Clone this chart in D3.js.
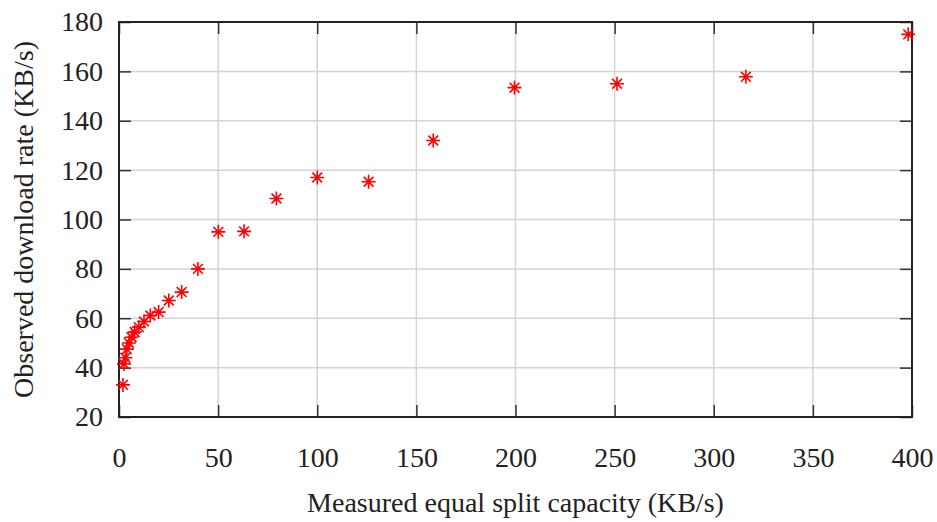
<!DOCTYPE html>
<html>
<head>
<meta charset="utf-8">
<script src="https://cdn.jsdelivr.net/npm/d3@7"></script>
<style>
  body { margin: 0; background: #fff; }
  text { font-family: "Liberation Serif", "DejaVu Serif", serif; fill: #222; }
</style>
</head>
<body>
<svg></svg>
<script>
const svg = d3.select("svg");

const sizes = {
  width: 937,
  height: 522,
  left: 119,
  right: 912,
  top: 22,
  bottom: 417,
  tick: 12,
  star: 7,
  font: "28px"
};

svg.attr("width", sizes.width).attr("height", sizes.height);

// measured equal split capacity (KB/s)
const capacity = [2.0, 2.5, 3.2, 4.0, 5.0, 6.3, 7.9, 10, 12.6, 15.8, 20, 25.1, 31.6, 39.8,
  50.1, 63.1, 79.4, 100, 125.9, 158.5, 199.5, 251.2, 316.2, 398.1];
// observed download rate (KB/s)
const rate = [33, 41.5, 44, 47.5, 50, 52.3, 54.4, 56.4, 58.7, 61.1, 62.5, 67.2, 70.6, 80,
  95, 95.2, 108.5, 117, 115.3, 132, 153.4, 155, 157.8, 175];

const xTicks = [0, 50, 100, 150, 200, 250, 300, 350, 400];
const yTicks = [20, 40, 60, 80, 100, 120, 140, 160, 180];

const x = d3.scaleLinear().domain([0, 400]).range([sizes.left, sizes.right]);
const y = d3.scaleLinear().domain([20, 180]).range([sizes.bottom, sizes.top]);

// grid
svg.append("g")
  .selectAll("line")
  .data(xTicks.slice(1, -1))
  .join("line")
  .attr("x1", d => x(d)).attr("x2", d => x(d))
  .attr("y1", sizes.top).attr("y2", sizes.bottom)
  .attr("stroke", "#d4d4d4").attr("stroke-width", 1.5);

svg.append("g")
  .selectAll("line")
  .data(yTicks.slice(1, -1))
  .join("line")
  .attr("y1", d => y(d)).attr("y2", d => y(d))
  .attr("x1", sizes.left).attr("x2", sizes.right)
  .attr("stroke", "#d4d4d4").attr("stroke-width", 1.5);

// axes with inward ticks on all four sides
const axisStyle = g => {
  g.select(".domain").remove();
  g.selectAll(".tick line").attr("stroke", "#333").attr("stroke-width", 1.5);
  g.selectAll("text").style("font-size", sizes.font).style("fill", "#222");
};

svg.append("g")
  .attr("transform", `translate(0,${sizes.bottom})`)
  .call(d3.axisBottom(x).tickValues(xTicks).tickSize(-sizes.tick).tickPadding(30))
  .call(axisStyle);

svg.append("g")
  .attr("transform", `translate(0,${sizes.top})`)
  .call(d3.axisTop(x).tickValues(xTicks).tickSize(-sizes.tick).tickFormat(""))
  .call(axisStyle);

svg.append("g")
  .attr("transform", `translate(${sizes.left},0)`)
  .call(d3.axisLeft(y).tickValues(yTicks).tickSize(-sizes.tick).tickPadding(16))
  .call(axisStyle);

svg.append("g")
  .attr("transform", `translate(${sizes.right},0)`)
  .call(d3.axisRight(y).tickValues(yTicks).tickSize(-sizes.tick).tickFormat(""))
  .call(axisStyle);

// frame
svg.append("rect")
  .attr("x", sizes.left).attr("y", sizes.top)
  .attr("width", sizes.right - sizes.left)
  .attr("height", sizes.bottom - sizes.top)
  .attr("fill", "none")
  .attr("stroke", "#222")
  .attr("stroke-width", 2);

// star markers (plus + cross)
const s = sizes.star;
const starPath = `M${-s},0H${s}M0,${-s}V${s}M${-s * 0.7},${-s * 0.7}L${s * 0.7},${s * 0.7}M${-s * 0.7},${s * 0.7}L${s * 0.7},${-s * 0.7}`;

svg.append("g")
  .selectAll("path")
  .data(capacity.map((c, i) => [c, rate[i]]))
  .join("path")
  .attr("transform", d => `translate(${x(d[0])},${y(d[1])})`)
  .attr("d", starPath)
  .attr("stroke", "#ff0000")
  .attr("stroke-width", 1.6)
  .attr("fill", "none");

// axis titles
svg.append("text")
  .attr("x", (sizes.left + sizes.right) / 2)
  .attr("y", 512)
  .attr("text-anchor", "middle")
  .style("font-size", sizes.font)
  .text("Measured equal split capacity (KB/s)");

svg.append("text")
  .attr("transform", `translate(33,${(sizes.top + sizes.bottom) / 2}) rotate(-90)`)
  .attr("text-anchor", "middle")
  .style("font-size", sizes.font)
  .text("Observed download rate (KB/s)");
</script>
</body>
</html>
